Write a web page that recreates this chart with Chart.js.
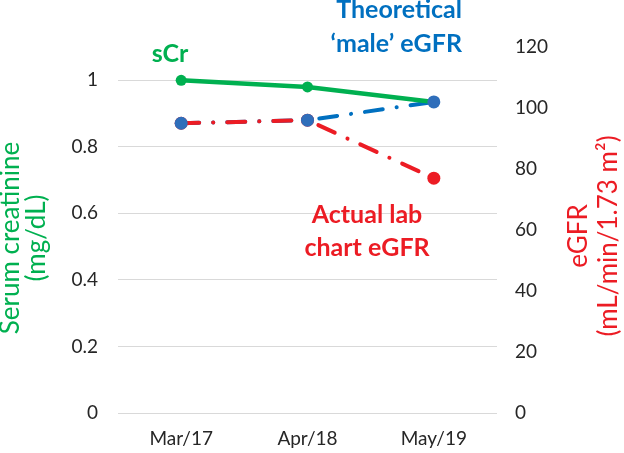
<!DOCTYPE html>
<html>
<head>
<meta charset="utf-8">
<title>sCr and eGFR</title>
<script src="https://cdn.jsdelivr.net/npm/chart.js@4/dist/chart.umd.min.js"></script>
<style>
  html, body { margin: 0; padding: 0; background: #fff; }
  #chart { display: block; }
</style>
</head>
<body>
<canvas id="chart" width="624" height="453"></canvas>
<script>
'use strict';

// ─── Data ─────────────────────────────────────────────────────────────────────
const categories = ['Mar/17', 'Apr/18', 'May/19'];
const serumCreatinine = [1.0, 0.98, 0.935];      // mg/dL, left axis
const theoreticalMaleEgfr = [95, 96, 102];      // right axis
const actualLabEgfr = [95, 96, 77];             // right axis
const scrTicks = [0, 0.2, 0.4, 0.6, 0.8, 1];
const egfrTicks = [0, 20, 40, 60, 80, 100, 120];

// ─── Styles ───────────────────────────────────────────────────────────────────
const GREEN = '#00B050';
const BLUE = '#0070C0';
const BLUE_MARK = '#2F6EBA';
const RED = '#EC1C24';
const GRID = '#D9D9D9';
const TEXT = '#262626';
const FONT = 'Lato';
const DASH = [18, 14, 0.1, 14];

// free text drawn on the canvas (pixel anchors)
const notes = [
  { lines: ['sCr'], x: 170, y: [62], align: 'center', color: GREEN },
  { lines: ['Theoretical', '\u2018male\u2019 eGFR'], x: 462, y: [18, 52], align: 'right', color: BLUE },
  { lines: ['Actual lab', 'chart eGFR'], x: 367, y: [223, 256], align: 'center', color: RED },
];
const axisTitles = [
  { lines: ['Serum creatinine', '(mg/dL)'], x: [19, 45], y: 238, color: GREEN },
  { lines: ['eGFR', '(mL/min/1.73 m\u00B2)'], x: [587, 617], y: 236, color: RED },
];

const textPlugin = {
  id: 'textPlugin',
  afterDraw(chart) {
    const ctx = chart.ctx;
    ctx.save();
    ctx.textBaseline = 'alphabetic';

    ctx.font = `bold 25px ${FONT}`;
    notes.forEach(n => {
      ctx.fillStyle = n.color;
      ctx.textAlign = n.align;
      n.lines.forEach((line, i) => ctx.fillText(line, n.x, n.y[i]));
    });

    ctx.font = `26px ${FONT}`;
    ctx.textAlign = 'center';
    axisTitles.forEach(t => {
      ctx.fillStyle = t.color;
      t.lines.forEach((line, i) => {
        ctx.save();
        ctx.translate(t.x[i], t.y);
        ctx.rotate(-Math.PI / 2);
        ctx.fillText(line, 0, 0);
        ctx.restore();
      });
    });
    ctx.restore();
  },
};

// ─── Chart ────────────────────────────────────────────────────────────────────
function drawChart() {
  const tickFont = { family: FONT, size: 19 };

  new Chart(document.getElementById('chart'), {
    type: 'line',
    data: {
      labels: categories,
      datasets: [
        {
          label: 'Theoretical male eGFR (markers)',
          data: theoreticalMaleEgfr,
          yAxisID: 'y1',
          showLine: false,
          pointRadius: 6.5,
          pointBackgroundColor: BLUE_MARK,
          pointBorderColor: BLUE_MARK,
          pointBorderWidth: 0,
          order: 0,
        },
        {
          label: 'sCr',
          data: serumCreatinine,
          yAxisID: 'y',
          borderColor: GREEN,
          borderWidth: 4.5,
          pointRadius: 5.5,
          pointBackgroundColor: GREEN,
          pointBorderColor: GREEN,
          pointBorderWidth: 0,
          order: 1,
        },
        {
          label: 'Actual lab chart eGFR',
          data: actualLabEgfr,
          yAxisID: 'y1',
          borderColor: RED,
          borderWidth: 4,
          borderDash: DASH,
          borderCapStyle: 'round',
          pointRadius: 6.5,
          pointBackgroundColor: RED,
          pointBorderColor: RED,
          pointBorderWidth: 0,
          order: 2,
        },
        {
          label: 'Theoretical male eGFR',
          data: theoreticalMaleEgfr,
          yAxisID: 'y1',
          borderColor: BLUE,
          borderWidth: 4,
          borderDash: DASH,
          borderCapStyle: 'round',
          pointRadius: 0,
          order: 3,
        },
      ],
    },
    options: {
      responsive: false,
      animation: false,
      devicePixelRatio: 1,
      layout: { padding: { top: 47, left: 0, right: 0, bottom: 0 } },
      plugins: { legend: { display: false }, tooltip: { enabled: false } },
      scales: {
        x: {
          offset: true,
          grid: { display: false, drawTicks: false },
          border: { display: false },
          ticks: { font: tickFont, color: TEXT, padding: 14 },
          afterFit: s => { s.height = 40; },
        },
        y: {
          position: 'left',
          min: 0,
          max: 1.1,
          afterBuildTicks: s => { s.ticks = scrTicks.map(v => ({ value: v })); },
          grid: { color: GRID, lineWidth: 1, drawTicks: false },
          border: { display: false },
          ticks: { font: tickFont, color: TEXT, padding: 20, callback: v => String(v) },
          afterFit: s => { s.width = 118; },
        },
        y1: {
          position: 'right',
          min: 0,
          max: 120,
          afterBuildTicks: s => { s.ticks = egfrTicks.map(v => ({ value: v })); },
          grid: { display: false, drawTicks: false },
          border: { display: false },
          ticks: { font: tickFont, color: TEXT, padding: 18, callback: v => String(v) },
          afterFit: s => { s.width = 127; },
        },
      },
    },
    plugins: [textPlugin],
  });
}

document.fonts.load(`19px ${FONT}`).then(drawChart, drawChart);
</script>
</body>
</html>
